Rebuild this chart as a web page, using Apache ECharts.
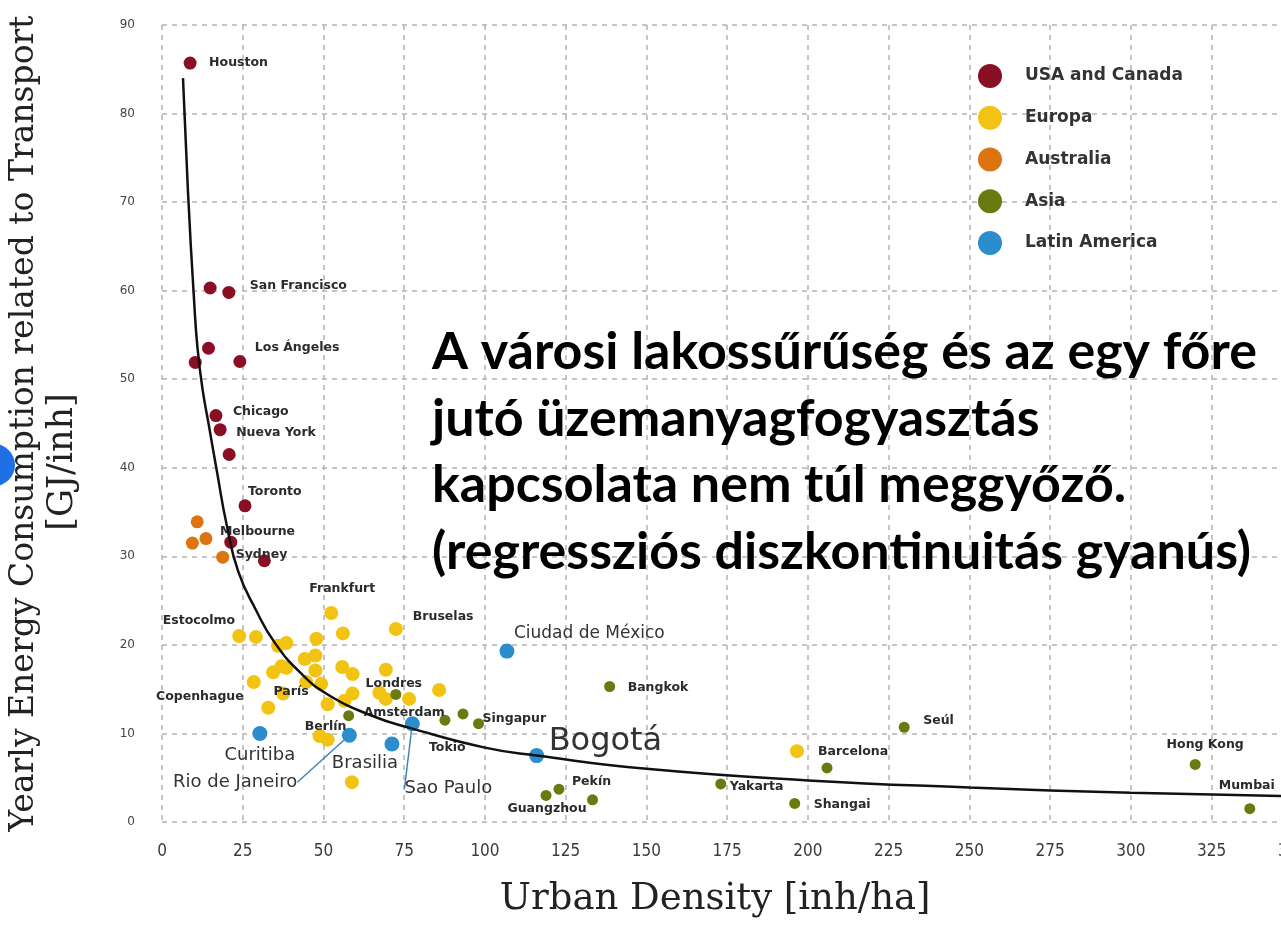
<!DOCTYPE html>
<html><head><meta charset="utf-8">
<script src="https://cdn.jsdelivr.net/npm/echarts@6/dist/echarts.min.js"></script>
<style>html,body{margin:0;padding:0;background:#fff;overflow:hidden;width:1281px;height:929px}#c{width:1310px;height:929px}</style>
</head><body><div id="c"></div>
<script>
// ---- axis ticks ----
const xAxisRange = [0, 350, 25];
const yAxisRange = [0, 90, 10];

// ---- data: [city label, density (inh/ha), energy (GJ/inh)] ----
const usaCanada = [
  ['Houston', 8.7, 85.7], ['', 14.9, 60.3], ['San Francisco', 20.7, 59.8],
  ['', 14.4, 53.5], ['', 10.3, 51.9], ['Los Ángeles', 24.1, 52.0],
  ['Chicago', 16.7, 45.9], ['Nueva York', 18.0, 44.3], ['', 20.8, 41.5],
  ['Toronto', 25.7, 35.7], ['', 21.3, 31.6], ['', 31.7, 29.5]
];
const europa = [
  ['Frankfurt', 52.4, 23.6], ['Bruselas', 72.4, 21.8], ['Estocolmo', 23.9, 21.0], ['', 29.1, 20.9],
  ['', 56.0, 21.3], ['', 47.8, 20.7], ['', 35.9, 19.9], ['', 38.5, 20.2], ['', 44.2, 18.4],
  ['', 47.5, 18.8], ['', 34.4, 16.9], ['', 37.0, 17.6], ['', 38.5, 17.4], ['', 47.5, 17.1],
  ['', 55.8, 17.5], ['', 59.0, 16.7], ['', 69.3, 17.2], ['Copenhague', 28.4, 15.8], ['', 44.7, 15.8],
  ['', 49.3, 15.6], ['París', 37.5, 14.5], ['', 56.5, 13.7], ['', 59.0, 14.5], ['', 67.3, 14.6],
  ['Londres', 69.3, 13.9], ['', 76.5, 13.9], ['', 85.8, 14.9], ['', 32.9, 12.9], ['Amsterdam', 51.3, 13.3],
  ['Berlín', 48.8, 9.7], ['', 51.3, 9.3], ['', 58.8, 4.5], ['Barcelona', 196.6, 8.0]
];
const australia = [
  ['', 10.9, 33.9], ['Melbourne', 13.6, 32.0], ['', 9.4, 31.5], ['Sydney', 18.8, 29.9]
];
const asia = [
  ['Bangkok', 138.6, 15.3], ['', 72.4, 14.4], ['', 57.8, 12.0], ['Tokio', 87.6, 11.5],
  ['', 93.2, 12.2], ['Singapur', 98.0, 11.1], ['Pekín', 122.9, 3.7], ['Guangzhou', 118.9, 3.0],
  ['', 133.3, 2.5], ['Yakarta', 173.0, 4.3], ['Shangai', 195.9, 2.1], ['', 205.9, 6.1],
  ['Seúl', 229.8, 10.7], ['Hong Kong', 319.9, 6.5], ['Mumbai', 336.8, 1.5]
];
const latinAmerica = [
  ['Ciudad de México', 106.8, 19.3], ['Bogotá', 116.0, 7.5], ['Curitiba', 30.3, 10.0],
  ['Rio de Janeiro', 58.0, 9.8], ['Brasilia', 71.2, 8.8], ['Sao Paulo', 77.5, 11.1]
];
// regression curve
const curveX = [6.5, 8, 10, 11, 12.5, 14.5, 17, 20, 23.6, 29, 35, 43, 51.3, 65, 77, 100, 116, 150, 200, 250, 300, 350];
const curveY = [84, 71.5, 58.5, 53.5, 49, 44.8, 39.6, 33.6, 28.3, 24.0, 20.2, 16.8, 14.4, 12.0, 10.6, 8.4, 7.5, 6.0, 4.7, 3.9, 3.3, 2.9];

const legendNames = ['USA and Canada', 'Europa', 'Australia', 'Asia', 'Latin America'];
const titleLines = ['A városi lakossűrűség és az egy főre', 'jutó üzemanyagfogyasztás', 'kapcsolata nem túl meggyőző.', '(regressziós diszkontinuitás gyanús)'];

// ---- label placement (style only): [align, dx, dy, fontSize] ----
const labelPlacement = {
  'Houston': ['left', 19, 0], 'San Francisco': ['left', 21, -7], 'Los Ángeles': ['left', 15, -14],
  'Chicago': ['left', 17, -4], 'Nueva York': ['left', 16, 3], 'Toronto': ['left', 3, -14],
  'Melbourne': ['left', 14, -7], 'Sydney': ['left', 13, -2], 'Frankfurt': ['center', 11, -24],
  'Bruselas': ['left', 17, -12], 'Estocolmo': ['right', -4, -15], 'Copenhague': ['right', -10, 15],
  'París': ['center', 8, -2], 'Londres': ['center', 8, -15], 'Amsterdam': ['left', 36, 9],
  'Berlín': ['center', 6, -9], 'Barcelona': ['left', 21, 1], 'Bangkok': ['left', 18, 1],
  'Singapur': ['left', 4, -5], 'Tokio': ['left', -16, 28], 'Pekín': ['left', 13, -7],
  'Guangzhou': ['center', 1, 13], 'Yakarta': ['left', 9, 3], 'Shangai': ['left', 19, 1],
  'Seúl': ['left', 19, -6], 'Hong Kong': ['center', 10, -20], 'Mumbai': ['left', -31, -23],
  'Ciudad de México': ['left', 7, -18, 17], 'Bogotá': ['left', 12, -14, 32],
  'Curitiba': ['center', 0, 22, 18], 'Rio de Janeiro': ['right', -52, 47, 18],
  'Brasilia': ['center', -27, 19, 18], 'Sao Paulo': ['center', 36, 65, 18]
};
const leaderLabels = ['Rio de Janeiro', 'Sao Paulo'];

function build(arr) {
  return arr.map(function (r) {
    const item = { name: r[0], value: [r[1], r[2]] };
    const p = labelPlacement[r[0]];
    if (r[0] && p) {
      const big = !!p[3];
      item.label = {
        show: true, position: 'inside', align: p[0], verticalAlign: 'middle',
        offset: [p[1], p[2]], formatter: r[0],
        fontFamily: 'DejaVu Sans', fontSize: big ? p[3] : 12.5, fontWeight: big ? 'normal' : 'bold',
        color: big ? '#333' : '#2b2b2b'
      };
      if (leaderLabels.indexOf(r[0]) >= 0) {
        item.labelLine = { show: true, lineStyle: { color: '#3d7fad', width: 1.4 } };
      }
    }
    return item;
  });
}

const colors = ['#8a0f24', '#f2c313', '#dc7410', '#6b7a10', '#2b8dcc'];
const sizes = [13, 14, 13, 11, 15];
const groups = [usaCanada, europa, australia, asia, latinAmerica];

const series = groups.map(function (g, i) {
  return {
    name: legendNames[i], type: 'scatter', data: build(g), symbolSize: sizes[i],
    itemStyle: { color: colors[i], opacity: 1 }, z: 2,
    label: { show: false }, emphasis: { disabled: true }
  };
});
series.push({
  name: 'curve', type: 'line', data: curveX.map(function (x, i) { return [x, curveY[i]]; }),
  smooth: 0.5, showSymbol: false, symbol: 'none',
  lineStyle: { color: '#111', width: 2.5 }, z: 3, silent: true
});

const chart = echarts.init(document.getElementById('c'), null, { renderer: 'canvas' });
chart.setOption({
  backgroundColor: '#fff',
  animation: false,
  grid: { left: 160, top: 25, bottom: 107, right: 14, containLabel: false },
  legend: {
    data: legendNames, orient: 'vertical', left: 973, top: 59,
    icon: 'circle', itemWidth: 24, itemHeight: 24, itemGap: 17.75,
    textStyle: { fontFamily: 'DejaVu Sans', fontSize: 17, color: '#333', fontWeight: 'bold', padding: [0, 0, 0, 18] }
  },
  xAxis: {
    type: 'value', min: xAxisRange[0], max: xAxisRange[1], interval: xAxisRange[2],
    name: 'Urban Density [inh/ha]', nameLocation: 'middle', nameGap: 59,
    nameTextStyle: { fontFamily: 'DejaVu Serif', fontSize: 37, color: '#222', padding: [0, 24, 0, 0] },
    axisLine: { show: false }, axisTick: { show: false },
    axisLabel: { margin: 21, fontFamily: 'DejaVu Sans Condensed', fontSize: 17, color: '#3a3a3a' },
    splitLine: { show: true, lineStyle: { color: '#b3b3b3', type: [5, 5], width: 1.5 } }
  },
  yAxis: {
    type: 'value', min: yAxisRange[0], max: yAxisRange[1], interval: yAxisRange[2],
    name: 'Yearly Energy Consumption related to Transport', nameLocation: 'middle', nameGap: 121, nameRotate: 90,
    nameTextStyle: { fontFamily: 'DejaVu Serif', fontSize: 33, color: '#222' },
    axisLine: { show: false }, axisTick: { show: false },
    axisLabel: { margin: 27, fontFamily: 'DejaVu Sans', fontSize: 12, color: '#444' },
    splitLine: { show: true, lineStyle: { color: '#b3b3b3', type: [5, 5], width: 1.5 } }
  },
  graphic: [
    { type: 'text', x: 63, y: 462, rotation: Math.PI / 2, z: 10,
      style: { text: '[GJ/inh]', fontFamily: 'DejaVu Serif', fontSize: 35, fill: '#222', align: 'center', verticalAlign: 'middle' } },
    { type: 'text', left: 432, top: 319, z: 10,
      style: { text: titleLines.join('\n'), fontFamily: 'Lato', fontWeight: 'bold', fontSize: 52, lineHeight: 66.5, fill: '#000' } },
    { type: 'circle', shape: { cx: -6, cy: 465, r: 21 }, style: { fill: '#1f6fe5' }, z: 10 }
  ],
  series: series
});
</script></body></html>
